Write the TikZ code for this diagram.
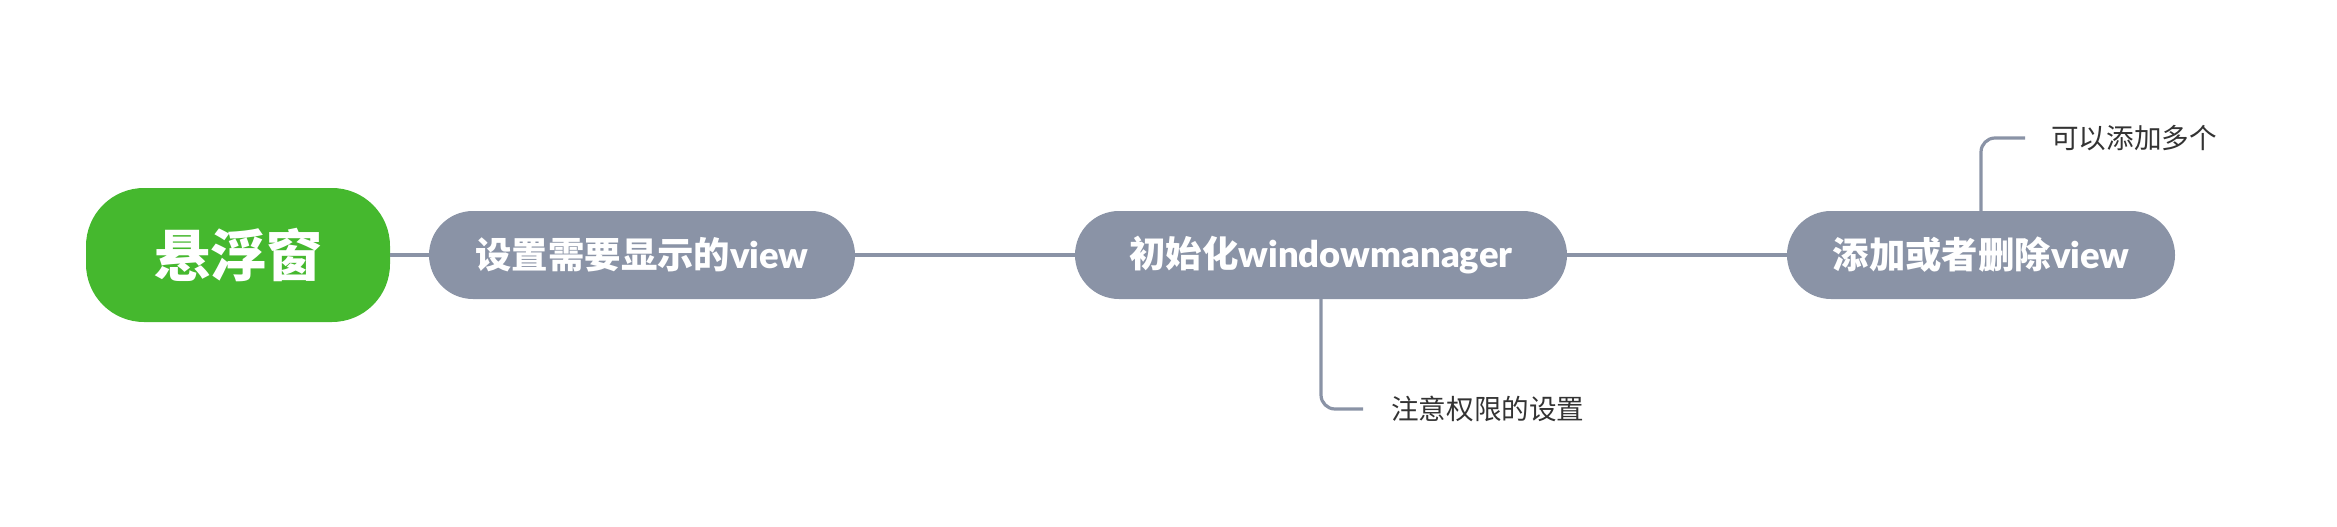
\documentclass[tikz,border=0pt]{standalone}
\usepackage{fontspec}
\setmainfont{Noto Sans CJK SC}[BoldFont={Noto Sans CJK SC Black}]
\newfontfamily\latin{Lato}[BoldFont={Lato Black}]
\definecolor{rootgreen}{HTML}{45B82E}
\definecolor{topicgray}{HTML}{8A93A6}
\definecolor{linegray}{HTML}{8A93A6}
\definecolor{subtext}{HTML}{333333}
\begin{document}
\begin{tikzpicture}[x=1pt,y=-1pt,
  roottopic/.style={fill=rootgreen,rounded corners=58pt,minimum width=304pt,minimum height=134pt,inner sep=0pt,text=white,font=\bfseries\fontsize{56}{60}\selectfont},
  maintopic/.style={fill=topicgray,rounded corners=44pt,minimum height=88pt,inner sep=0pt,text=white,font=\bfseries\fontsize{36.4}{40}\selectfont},
  subtopic/.style={anchor=west,inner sep=0pt,text=subtext,font=\fontsize{27.6}{30}\selectfont},
  conn/.style={draw=linegray,line width=3.2pt},
  branch/.style={draw=linegray,line width=3.2pt,rounded corners=14pt}]
\useasboundingbox (0,0) rectangle (2337,527);
\node[roottopic] (root) at (238,255) {悬浮窗};
\node[maintopic,minimum width=426pt] (n1) at (642,255) {设置需要显示的{\latin\bfseries view}};
\node[maintopic,minimum width=492pt] (n2) at (1321,255) {初始化{\latin\bfseries windowmanager}};
\node[maintopic,minimum width=388pt] (n3) at (1981,255) {添加或者删除{\latin\bfseries view}};
\node[subtopic] (s1) at (1391,409) {注意权限的设置};
\node[subtopic] (s2) at (2051,138) {可以添加多个};
\coordinate (e1) at (1363,409);
\coordinate (e2) at (2025,138);
\draw[conn] (root.east) -- (n1.west);
\draw[conn] (n1.east) -- (n2.west);
\draw[conn] (n2.east) -- (n3.west);
\draw[branch] (n2.south) |- (e1);
\draw[branch] (n3.north) |- (e2);
\end{tikzpicture}
\end{document}
